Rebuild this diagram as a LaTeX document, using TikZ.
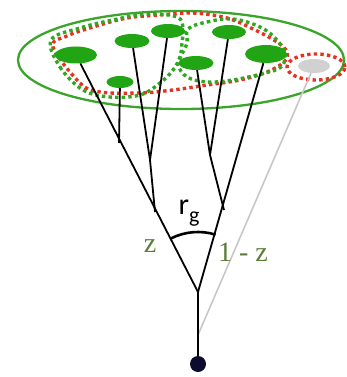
\documentclass[tikz,border=0pt]{standalone}
\usepackage{fontspec}
\newfontfamily\rgfont{Carlito}
\newfontfamily\zfont{Liberation Serif}
\usetikzlibrary{shapes.geometric}
\definecolor{leaf}{HTML}{22A514}
\definecolor{ring}{HTML}{3AA52A}
\definecolor{reddot}{HTML}{E53222}
\definecolor{greendot}{HTML}{2FA821}
\definecolor{olive}{HTML}{5A7D38}
\definecolor{rootc}{HTML}{0C0C2E}
\tikzset{
  blob/.style={ellipse, fill=leaf, draw=none, inner sep=0pt},
  greyblob/.style={ellipse, fill=black!18, draw=none, inner sep=0pt},
  branch/.style={black, line width=1.8pt},
  reddotted/.style={reddot, line width=3.4pt, line cap=butt, dash pattern=on 3.4pt off 3.2pt},
  greendotted/.style={greendot, line width=3.4pt, line cap=butt, dash pattern=on 3.4pt off 3.2pt},
  lab/.style={olive, font=\zfont\fontsize{28}{30}\selectfont},
}
\begin{document}
\begin{tikzpicture}[x=1pt,y=-1pt]
\useasboundingbox (0,0) rectangle (346,377);
% big ring
\draw[ring, line width=2.3pt] (181,60) ellipse [x radius=163pt, y radius=49pt];
% dotted groupings
\draw[reddotted] plot[smooth cycle, tension=0.6] coordinates {
 (53,47) (80,83) (100,92) (140,93) (173,90) (207,85) (240,80) (267,72) (284,62)
 (287,52) (277,42) (253,29) (227,18) (193,13) (160,15) (127,18) (93,27) (67,36)};
\draw[reddotted] (316,67) ellipse [x radius=29pt, y radius=13pt];
\draw[greendotted] plot[smooth cycle, tension=0.6] coordinates {
 (51,40) (60,67) (83,90) (110,97) (140,95) (160,83) (173,70) (180,57) (182,43)
 (183,28) (177,17) (147,14) (113,20) (80,28)};
\draw[greendotted] plot[smooth cycle, tension=0.6] coordinates {
 (188,29) (207,22) (233,19) (260,27) (277,40) (285,55) (281,67) (265,73)
 (233,80) (207,82) (187,77) (178,65) (181,56) (187,43)};
% leaves
\node[blob, minimum width=42pt, minimum height=17pt] (b1) at (76,55) {};
\node[blob, minimum width=27pt, minimum height=12pt] (b2) at (120,82) {};
\node[blob, minimum width=35pt, minimum height=14pt] (b3) at (132,41) {};
\node[blob, minimum width=34pt, minimum height=14pt] (b4) at (168,31) {};
\node[blob, minimum width=35pt, minimum height=14pt] (b5) at (196,63) {};
\node[blob, minimum width=34pt, minimum height=14pt] (b6) at (229,32) {};
\node[blob, minimum width=42pt, minimum height=18pt] (b7) at (266,54) {};
\node[greyblob, minimum width=32pt, minimum height=14pt] (g1) at (314,66) {};
% tree
\node[circle, fill=rootc, minimum size=16pt, inner sep=0pt] (root) at (198,364) {};
\coordinate (apex) at (198,292);
\coordinate (graystart) at (198,335);
\coordinate (jl) at (119,143);
\coordinate (jl2) at (155,212);
\coordinate (jl3) at (150,160);
\coordinate (jr2) at (224,210);
\coordinate (jr3) at (210,155);
\draw[black!22, line width=1.6pt] (graystart) -- (g1);
\draw[branch] (root) -- (apex);
\draw[branch] (apex) -- (b1);
\draw[branch] (apex) -- (b7);
\draw[branch] (jl) -- (b2);
\draw[branch] (jl2) -- (jl3);
\draw[branch] (jl3) -- (b3);
\draw[branch] (jl3) -- (b4);
\draw[branch] (jr2) -- (jr3);
\draw[branch] (jr3) -- (b5);
\draw[branch] (jr3) -- (b6);
% angle arc
\draw[black, line width=2.6pt] ([shift={(117:60pt)}]apex) arc [start angle=117, end angle=73, radius=60pt];
% labels
\node[font=\rgfont\fontsize{30}{32}\selectfont, inner sep=0pt] (rg) at (189,213) {r\raisebox{-0.25em}{\fontsize{22}{22}\selectfont g}};
\node[lab, inner sep=0pt] (z) at (150,246) {z};
\node[lab, inner sep=0pt] (omz) at (243,252) {1 - z};
\end{tikzpicture}
\end{document}
